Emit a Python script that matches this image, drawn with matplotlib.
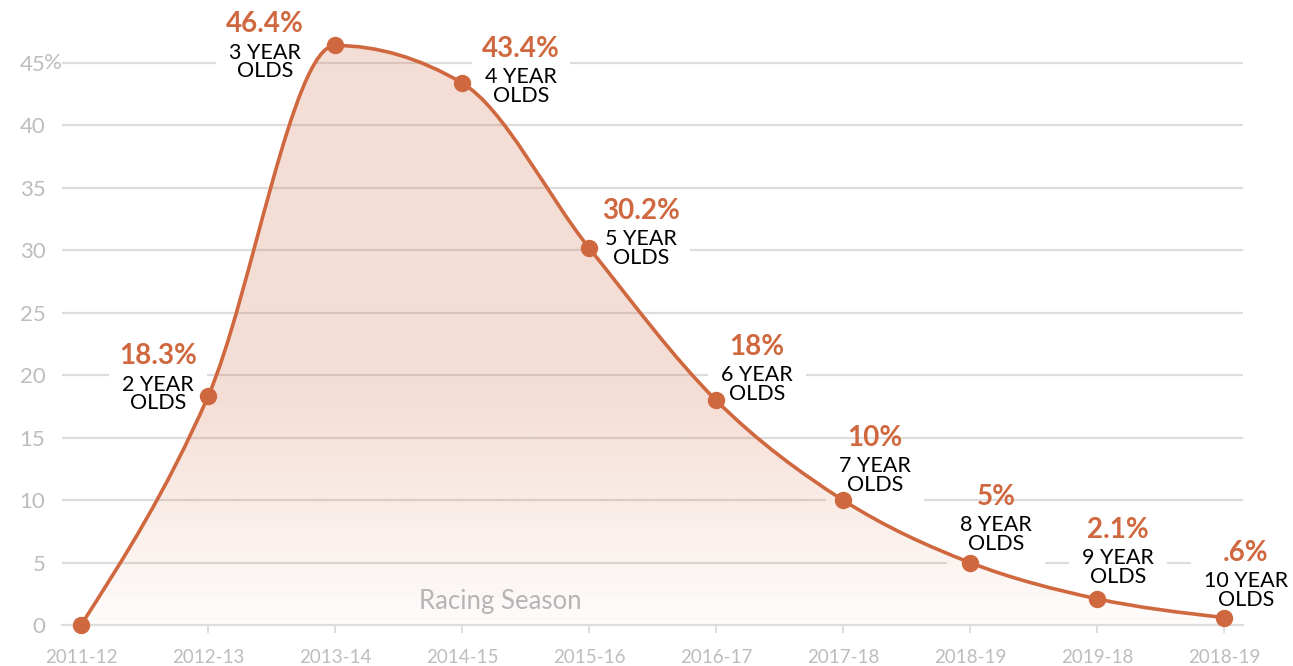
import numpy as np
import matplotlib
matplotlib.use('Agg')
from matplotlib import pyplot as plt
from matplotlib.path import Path
from matplotlib.patches import PathPatch
from matplotlib.colors import to_rgb

# data
seasons = ['2011-12', '2012-13', '2013-14', '2014-15', '2015-16',
           '2016-17', '2017-18', '2018-19', '2019-18', '2018-19']
share = [0, 18.3, 46.4, 43.4, 30.2, 18, 10, 5, 2.1, 0.6]
pct_labels = ['', '18.3%', '46.4%', '43.4%', '30.2%', '18%', '10%', '5%', '2.1%', '.6%']
age_labels = ['', '2 YEAR\nOLDS', '3 YEAR\nOLDS', '4 YEAR\nOLDS', '5 YEAR\nOLDS',
              '6 YEAR\nOLDS', '7 YEAR\nOLDS', '8 YEAR\nOLDS', '9 YEAR\nOLDS',
              '10 YEAR\nOLDS']
y_ticks = [0, 5, 10, 15, 20, 25, 30, 35, 40, 45]

# label offsets in pixels (dx, dy): centre / baseline of the % text
label_offsets = [(0, 0), (-50, 32), (-70, 13), (59, 26), (52, 29),
                 (41, 45), (32, 54), (26, 58), (21, 61), (22, 57)]

orange = '#d0683f'
grid_gray = '#dddddd'
tick_gray = '#bdbdbd'
plt.rcParams['font.family'] = ['Lato', 'DejaVu Sans']


def monotone_tangents(x, y):
    # same slopes as d3.curveMonotoneX
    n = len(x)
    h = np.diff(x)
    s = np.diff(y) / h
    t = np.zeros(n)
    for i in range(1, n - 1):
        p = (s[i - 1] * h[i] + s[i] * h[i - 1]) / (h[i - 1] + h[i])
        t[i] = (np.sign(s[i - 1]) + np.sign(s[i])) * min(abs(s[i - 1]), abs(s[i]), 0.5 * abs(p))
    t[0] = (3 * s[0] - t[1]) / 2
    t[-1] = (3 * s[-1] - t[-2]) / 2
    return t


def curve_path(x, y, close=False):
    t = monotone_tangents(x, y)
    verts = [(x[0], y[0])]
    codes = [Path.MOVETO]
    for i in range(len(x) - 1):
        d = (x[i + 1] - x[i]) / 3
        verts += [(x[i] + d, y[i] + d * t[i]),
                  (x[i + 1] - d, y[i + 1] - d * t[i + 1]),
                  (x[i + 1], y[i + 1])]
        codes += [Path.CURVE4] * 3
    if close:
        verts += [(x[-1], 0), (x[0], 0), (x[0], 0)]
        codes += [Path.LINETO, Path.LINETO, Path.CLOSEPOLY]
    return Path(verts, codes)


fig = plt.figure(figsize=(12.93, 6.66), dpi=100)
ax = fig.add_axes([62 / 1293, (666 - 625) / 666, 1181 / 1293, 599.5 / 666])

xs = np.arange(len(seasons), dtype=float)
ys = np.array(share, dtype=float)

# gridlines
for v in y_ticks[1:]:
    ax.axhline(v, color=grid_gray, linewidth=1.6, zorder=1)

# gradient fill under curve
fill_patch = PathPatch(curve_path(xs, ys, close=True), facecolor='none',
                       edgecolor='none')
ax.add_patch(fill_patch)
grad_y = np.linspace(0, 48, 300)
alpha = np.clip(0.02 + 0.2 * grad_y / 18, 0, 0.22)
rgba = np.zeros((300, 1, 4))
rgba[..., :3] = to_rgb(orange)
rgba[:, 0, 3] = alpha
im = ax.imshow(rgba, extent=[xs[0], xs[-1], 0, 48], origin='lower',
               aspect='auto', zorder=2, interpolation='bilinear')
im.set_clip_path(fill_patch)

# line + points
ax.add_patch(PathPatch(curve_path(xs, ys), facecolor='none', edgecolor=orange,
                       linewidth=2.6, zorder=5, clip_on=False))
ax.plot(xs, ys, linestyle='none', marker='o', markersize=11.5, color=orange,
        zorder=6, clip_on=False)

# labels: white box sits under the fill, covering gridlines only
# (va='baseline' on multi-line text anchors the last line)
for i in range(1, len(xs)):
    dx, dy = label_offsets[i]
    ax.annotate(age_labels[i], (xs[i], ys[i]), xytext=(dx, dy - 45),
                textcoords='offset pixels', ha='center', va='baseline',
                fontsize=15.5, color='black', linespacing=0.93, zorder=1.5,
                bbox=dict(boxstyle='square,pad=0.6', fc='white', ec='none'))
    ax.annotate(pct_labels[i], (xs[i], ys[i]), xytext=(dx, dy),
                textcoords='offset pixels', ha='center', va='baseline',
                fontsize=20, fontweight='bold', color=orange, zorder=7)

ax.text(3.3, 1.9, 'Racing Season', ha='center', va='center', fontsize=18.5,
        color='#b5b5b5', zorder=3)

ax.set_xlim(-0.15, 9.15)
ax.set_ylim(0, 48)
ax.set_xticks(xs)
ax.set_xticklabels(seasons)
ax.set_yticks(y_ticks)
ax.set_yticklabels([str(v) for v in y_ticks])
for s in ['top', 'right', 'left']:
    ax.spines[s].set_visible(False)
ax.spines['bottom'].set_color(grid_gray)
ax.spines['bottom'].set_linewidth(1.6)
ax.tick_params(axis='x', length=6, width=1.4, color=grid_gray, pad=11,
               labelsize=13.5, labelcolor=tick_gray)
ax.tick_params(axis='y', length=0, pad=12, labelsize=16, labelcolor=tick_gray)

# percent sign after the top tick value
ax.annotate('%', (0, 45), xycoords=('axes fraction', 'data'), xytext=(-18, 0),
            textcoords='offset pixels', ha='left', va='center', fontsize=16,
            color=tick_gray, annotation_clip=False)

fig.savefig('out.png', dpi=100)
